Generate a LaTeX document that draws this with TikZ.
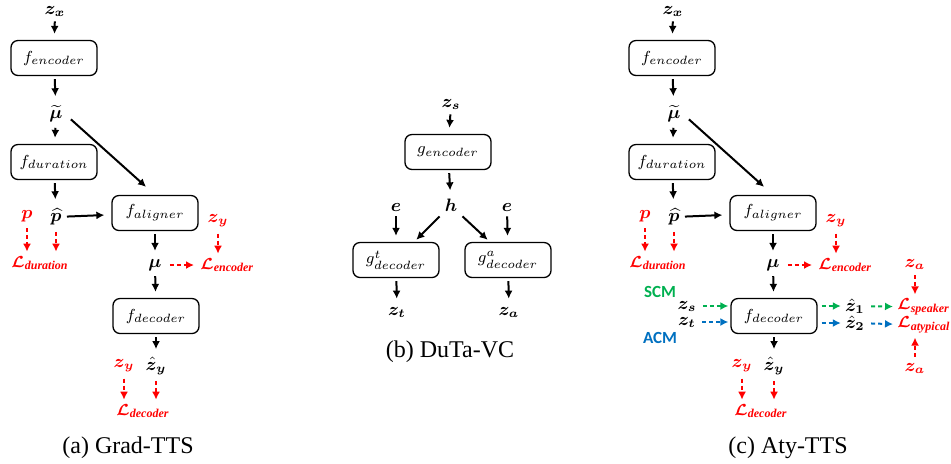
\documentclass[tikz,border=0pt]{standalone}
\usepackage{amsmath,bm}
\usepackage{fontspec}
\setmainfont{Liberation Serif}
\newfontfamily\cmfont{Carlito}
\usepackage{tikz}
\usetikzlibrary{positioning,arrows,arrows.meta}
\definecolor{myred}{RGB}{255,0,0}
\definecolor{mygreen}{RGB}{0,176,80}
\definecolor{myblue}{RGB}{0,112,192}
\newcommand{\lossL}[1]{$\bm{\mathcal{L}}_{\text{\bfseries\itshape #1}}$}
\begin{document}
\begin{tikzpicture}[x=0.5pt,y=-0.5pt,>={Latex[length=4pt,width=4pt]},
	every node/.style={inner sep=1pt,font=\small},
	block/.style={draw,rounded corners=3.5pt,line width=0.65pt,minimum width=43pt,minimum height=17.5pt,font=\footnotesize},
	flow/.style={->,line width=1pt,shorten >=3pt,shorten <=1.5pt},
	lossflow/.style={->,line width=1pt,dash pattern=on 2pt off 1.5pt,shorten >=1pt,shorten <=2pt},
	loss/.style={text=myred},
	lossname/.style={text=myred,font=\footnotesize},
	module/.style={font=\cmfont\bfseries\fontsize{8.5}{10}\selectfont},
	captext/.style={font=\large},
	%every label/.style={font=\small},
	]
	
	% the bounding box
	\useasboundingbox (0,0) rectangle (951,463);
	
	% the panels (a) and (c)
	\foreach \p/\dx in {a/0,c/618}{
	\begin{scope}[xshift=\dx*0.5pt]
	\node (\p-zx) at (55,11) {$\bm{z}_{\bm{x}}$};
	\node[block] (\p-enc) at (54,58) {$f_{encoder}$};
	\node (\p-mut) at (56,114) {$\widetilde{\bm{\mu}}$};
	\node[block] (\p-dur) at (54,162) {$f_{duration}$};
	\node (\p-ph) at (56,217) {$\widehat{\bm{p}}$};
	\node[loss] (\p-p) at (27,216) {$\bm{p}$};
	\node[block] (\p-al) at (155,213) {$f_{aligner}$};
	\node[lossname] (\p-Ldur) at (40,263) {\lossL{duration}};
	\node[loss] (\p-zy) at (218,221) {$\bm{z}_{\bm{y}}$};
	\node[lossname,anchor=west] (\p-Lenc) at (198,265) {\lossL{encoder}};
	\node (\p-mu) at (155,265) {$\bm{\mu}$};
	\node[block] (\p-dec) at (156,316) {$f_{decoder}$};
	\node (\p-zhy) at (156,366) {$\hat{\bm{z}}_{\bm{y}}$};
	\node[loss] (\p-zyd) at (124,366) {$\bm{z}_{\bm{y}}$};
	\node[lossname] (\p-Ldec) at (143,411) {\lossL{decoder}};
	\end{scope}
	
	% the edges
	\draw[flow] (\p-zx) -- (\p-enc);
	\draw[flow,shorten >=3.5pt] (\p-enc) -- (\p-mut);
	\draw[flow] (\p-mut) -- (\p-dur);
	\draw[flow,shorten >=3.5pt] (\p-dur) -- (\p-ph);
	\draw[flow,shorten >=3.5pt] (\p-ph) -- (\p-al);
	\draw[flow,shorten >=6pt,shorten <=4pt] (\p-mut.east) -- (\p-al.north);
	\draw[flow] (\p-al) -- (\p-mu);
	\draw[flow] (\p-mu) -- (\p-dec);
	\draw[flow] (\p-dec) -- (\p-zhy);
	
	% the losses
	\draw[lossflow,myred] (\p-p) -- (\p-p |- \p-Ldur.north);
	\draw[lossflow,myred] (\p-ph) -- (\p-ph |- \p-Ldur.north);
	\draw[lossflow,myred] (\p-zy) -- (\p-zy |- \p-Lenc.north);
	\draw[lossflow,myred,shorten <=3pt,shorten >=2pt] (\p-mu) -- (\p-Lenc);
	\draw[lossflow,myred] (\p-zyd) -- (\p-zyd |- \p-Ldec.north);
	\draw[lossflow,myred] (\p-zhy) -- (\p-zhy |- \p-Ldec.north);
	}
	
	% the panel (b)
	\node (zs) at (451,104) {$\bm{z}_{\bm{s}}$};
	\node[block] (genc) at (448,152) {$g_{encoder}$};
	\node (h) at (451,205) {$\bm{h}$};
	\node (el) at (396,207) {$\bm{e}$};
	\node (er) at (507,207) {$\bm{e}$};
	\node[block] (gt) at (396,260) {$g^{t}_{decoder}$};
	\node[block] (ga) at (508,260) {$g^{a}_{decoder}$};
	\node (zt) at (397,312) {$\bm{z}_{\bm{t}}$};
	\node (za) at (509,312) {$\bm{z}_{\bm{a}}$};
	
	\draw[flow] (zs) -- (genc);
	\draw[flow] (genc) -- (h);
	\draw[flow] (el) -- (gt);
	\draw[flow] (er) -- (ga);
	\draw[flow,shorten >=1.5pt,shorten <=2pt] (h.south west) -- (gt.45);
	\draw[flow,shorten >=1.5pt,shorten <=2pt] (h.south east) -- (ga.135);
	\draw[flow] (gt) -- (zt);
	\draw[flow] (ga) -- (za);
	
	% the modules of (c)
	\node[module,text=mygreen] (scm) at (660,292) {SCM};
	\node[module,text=myblue] (acm) at (660,338) {ACM};
	\node (czs) at (687,306) {$\bm{z}_{\bm{s}}$};
	\node (czt) at (687,322) {$\bm{z}_{\bm{t}}$};
	\node (z1) at (855,306) {$\hat{\bm{z}}_{\bm{1}}$};
	\node (z2) at (855,323) {$\hat{\bm{z}}_{\bm{2}}$};
	\node[lossname,anchor=west] (Lsp) at (895,307) {\lossL{speaker}};
	\node[lossname,anchor=west] (Lat) at (895,325) {\lossL{atypical}};
	\node[loss] (za1) at (915,264) {$\bm{z}_{\bm{a}}$};
	\node[loss] (za2) at (915,368) {$\bm{z}_{\bm{a}}$};
	
	\draw[lossflow,mygreen] (czs) -- (czs -| c-dec.west);
	\draw[lossflow,myblue] (czt) -- (czt -| c-dec.west);
	\draw[lossflow,mygreen] (z1 -| c-dec.east) -- (z1);
	\draw[lossflow,myblue] (z2 -| c-dec.east) -- (z2);
	\draw[lossflow,mygreen] (z1) -- (Lsp);
	\draw[lossflow,myblue] (z2) -- (Lat);
	\draw[lossflow,myred] (za1) -- (za1 |- Lsp.north);
	\draw[lossflow,myred] (za2) -- (za2 |- Lat.south);
	
	% the captions
	\node[captext] (capa) at (128,448) {(a) Grad-TTS};
	\node[captext] (capb) at (450,352) {(b) DuTa-VC};
	\node[captext] (capc) at (788,448) {(c) Aty-TTS};
\end{tikzpicture}
\end{document}
